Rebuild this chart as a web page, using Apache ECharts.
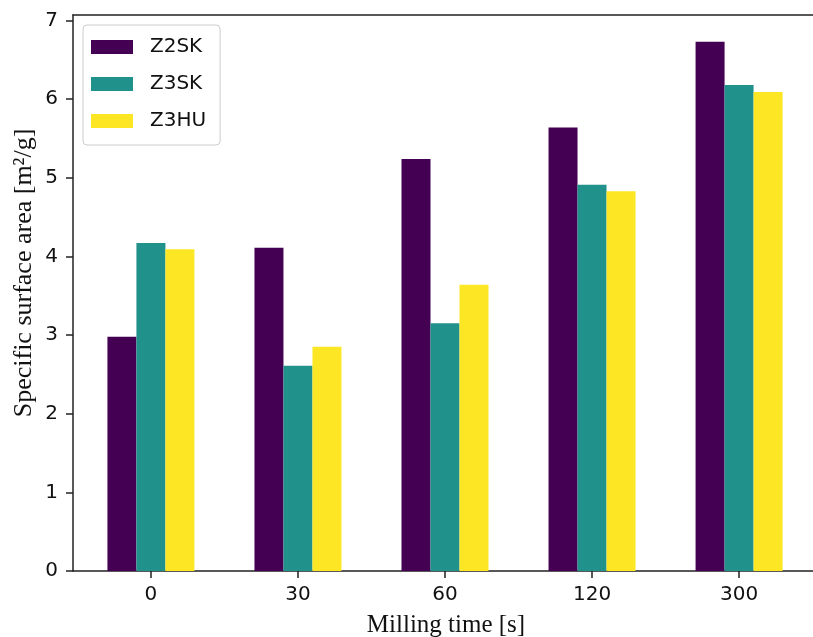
<!DOCTYPE html>
<html>
<head>
<meta charset="utf-8">
<script src="https://cdn.jsdelivr.net/npm/echarts@6/dist/echarts.min.js"></script>
<style>
  html, body { margin: 0; padding: 0; background: #ffffff; }
  #chart { width: 813px; height: 637px; }
</style>
</head>
<body>
<div id="chart"></div>
<script>
// Milling time groups (s)
const categories = ['0', '30', '60', '120', '300'];

// Specific surface area (m²/g) per powder
const seriesNames = ['Z2SK', 'Z3SK', 'Z3HU'];
const z2sk = [2.98, 4.11, 5.24, 5.64, 6.73];
const z3sk = [4.17, 2.61, 3.15, 4.91, 6.18];
const z3hu = [4.09, 2.85, 3.64, 4.83, 6.09];

const yTicks = [0, 1, 2, 3, 4, 5, 6, 7];

const colors = ['#440154', '#21918c', '#fde725'];
const sans = 'DejaVu Sans';
const spine = { color: '#222222', width: 1.5 };

const chart = echarts.init(document.getElementById('chart'), null, { renderer: 'canvas' });

function toPoints(values) {
  return values.map((v, i) => [i, v]);
}

const allValues = [z2sk, z3sk, z3hu];

chart.setOption({
  animation: false,
  backgroundColor: '#ffffff',
  color: colors,
  grid: {
    left: 73, top: 15, width: 744, bottom: 66,
    outerBoundsMode: 'none',
    containLabel: false,
    show: false
  },
  legend: {
    data: seriesNames,
    orient: 'vertical',
    left: 83, top: 25,
    padding: [12, 14, 14, 8],
    itemWidth: 42, itemHeight: 14, itemGap: 17,
    icon: 'rect',
    borderColor: '#cccccc', borderWidth: 1, borderRadius: 4,
    backgroundColor: '#ffffff',
    textStyle: {
      fontFamily: sans, fontSize: 20, color: '#111111',
      lineHeight: 14, padding: [0, 0, 0, 12]
    }
  },
  xAxis: [
    {
      type: 'value',
      min: -0.53, max: 4.53,
      splitLine: { show: false },
      axisLine: { show: true, onZero: false, lineStyle: spine },
      axisTick: {
        show: true, length: 7, customValues: [0, 1, 2, 3, 4],
        lineStyle: spine
      },
      axisLabel: {
        customValues: [0, 1, 2, 3, 4],
        formatter: v => categories[Math.round(v)],
        fontFamily: sans, fontSize: 20, color: '#111111', margin: 14
      }
    },
    {
      // top spine
      type: 'value',
      position: 'top',
      min: -0.53, max: 4.53,
      splitLine: { show: false },
      axisLine: { show: true, onZero: false, lineStyle: spine },
      axisTick: { show: false },
      axisLabel: { show: false }
    }
  ],
  yAxis: {
    type: 'value',
    min: 0, max: 7.07,
    splitLine: { show: false },
    axisLine: { show: true, onZero: false, lineStyle: spine },
    axisTick: {
      show: true, length: 7, customValues: yTicks,
      lineStyle: spine
    },
    axisLabel: {
      customValues: yTicks,
      formatter: v => String(Math.round(v)),
      fontFamily: sans, fontSize: 20, color: '#111111', margin: 15
    }
  },
  series: seriesNames.map((name, k) => ({
    name: name,
    type: 'bar',
    xAxisIndex: 0,
    data: toPoints(allValues[k]),
    barWidth: 29,
    barGap: '0%',
    itemStyle: { color: colors[k] }
  })),
  graphic: [
    {
      type: 'text',
      x: 446, y: 625,
      style: {
        text: 'Milling time [s]',
        font: '25px "Liberation Serif"',
        fill: '#111111',
        textAlign: 'center', textVerticalAlign: 'middle'
      }
    },
    {
      type: 'text',
      x: 24, y: 273,
      rotation: Math.PI / 2,
      style: {
        text: 'Specific surface area [m²/g]',
        font: '26px "Liberation Serif"',
        fill: '#111111',
        textAlign: 'center', textVerticalAlign: 'middle'
      }
    }
  ]
});
</script>
</body>
</html>
